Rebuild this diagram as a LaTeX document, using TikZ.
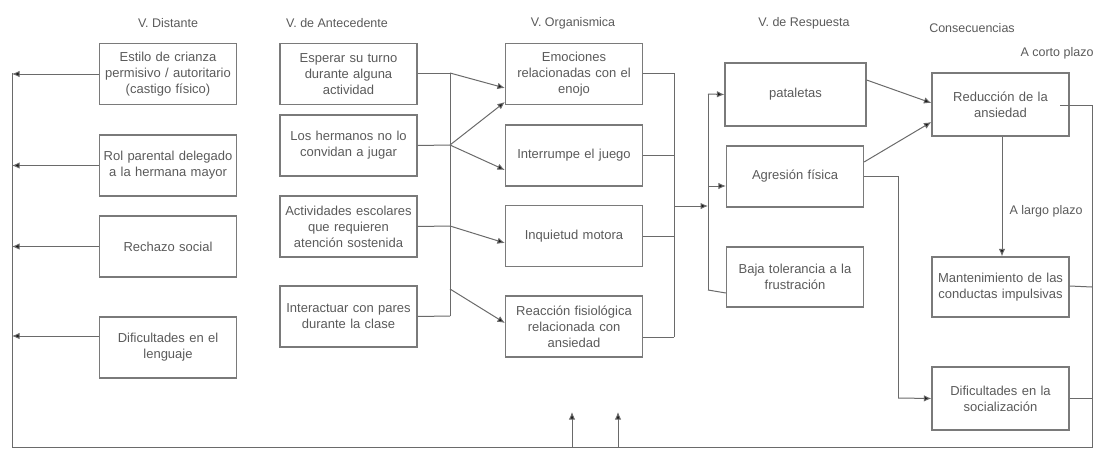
\documentclass[tikz,border=0pt]{standalone}
\usepackage{fontspec}
\setmainfont{Liberation Sans}
\usetikzlibrary{arrows.meta}
\definecolor{linec}{HTML}{6A6A6A}
\definecolor{boxc}{HTML}{7A7A7A}
\definecolor{txt}{HTML}{5A5A5A}
\definecolor{tipc}{HTML}{1A1A1A}
\tikzset{
  box/.style={draw=boxc, line width=1.2pt, minimum width=136pt, minimum height=61pt, align=center, text width=136pt, inner sep=0.5pt, font=\fontsize{13}{16}\selectfont, text=txt},
  ttl/.style={font=\fontsize{12.5}{14}\selectfont, text=txt, inner sep=1pt},
  ln/.style={draw=linec, line width=1pt},
  arr/.style={ln, -{Latex[length=7.5pt,width=6.5pt,fill=tipc]}},
}
\begin{document}
\begin{tikzpicture}[x=1pt,y=-1pt]
\useasboundingbox (0,0) rectangle (1101,450);
% titles
\node[ttl] (t1) at (168,23) {V. Distante};
\node[ttl] (t2) at (337,23) {V. de Antecedente};
\node[ttl] (t3) at (573,23) {V. Organismica};
\node[ttl] (t4) at (804,23) {V. de Respuesta};
\node[ttl] (t5) at (972,28) {Consecuencias};
\node[ttl] (t6) at (1057,53) {A corto plazo};
\node[ttl] (t7) at (1046,211) {A largo plazo};
% column 1
\node[box] (d1) at (168,74) {Estilo de crianza\\permisivo / autoritario\\(castigo físico)};
\node[box] (d2) at (168,165.5) {Rol parental delegado\\a la hermana mayor};
\node[box] (d3) at (168,246.5) {Rechazo social};
\node[box] (d4) at (168,347.5) {Dificultades en el\\lenguaje};
% column 2
\node[box, minimum width=135pt] (a1) at (348.5,74) {Esperar su turno\\durante alguna\\actividad};
\node[box, minimum width=135pt] (a2) at (348.5,145.5) {Los hermanos no lo\\convidan a jugar};
\node[box, minimum width=135pt] (a3) at (348.5,226.5) {Actividades escolares\\que requieren\\atención sostenida};
\node[box, minimum width=135pt] (a4) at (348.5,316.5) {Interactuar con pares\\durante la clase};
% column 3
\node[box] (e1) at (574,74) {Emociones\\relacionadas con el\\enojo};
\node[box] (e2) at (574,155.5) {Interrumpe el juego};
\node[box] (e3) at (574,236) {Inquietud motora};
\node[box] (e4) at (574,326.5) {Reacción fisiológica\\relacionada con\\ansiedad};
% column 4
\node[box, minimum width=141pt, minimum height=63pt] (r1) at (795.5,94.5) {pataletas};
\node[box] (r2) at (795,176.5) {Agresión física};
\node[box, minimum height=60pt] (r3) at (795,277) {Baja tolerancia a la\\frustración};
% column 5
\node[box, minimum width=135pt, minimum height=63pt] (c1) at (1000.5,104.5) {Reducción de la\\ansiedad};
\node[box, minimum width=135pt, minimum height=60pt] (c2) at (1000.5,287) {Mantenimiento de las\\conductas impulsivas};
\node[box, minimum width=135pt, minimum height=63pt] (c3) at (1000.5,398.5) {Dificultades en la\\socialización};
% helper coordinates
\coordinate (L) at (12,73);
\coordinate (BL) at (12,447);
\coordinate (BR) at (1092,447);
\coordinate (RT) at (1092,105);
\coordinate (A) at (450,0);
\coordinate (A1) at (450,73);
\coordinate (A2) at (450,145);
\coordinate (A4) at (450,316);
\coordinate (A5) at (450,289);
\coordinate (A3) at (450,226);
\coordinate (E) at (674,0);
\coordinate (E1) at (674,73);
\coordinate (EM) at (674,206);
\coordinate (E4) at (674,337);
\coordinate (R) at (708,0);
\coordinate (RM) at (708,206);
\coordinate (R1) at (708,94);
\coordinate (R3) at (708,290);
\coordinate (G) at (898,176);
\coordinate (G2) at (898,398);
\coordinate (U1a) at (572,447);
\coordinate (U1b) at (572,412);
\coordinate (U2a) at (618,447);
\coordinate (U2b) at (618,412);
% column 1 feedback
\draw[arr] (d1.west) -- (d1.west -| L);
\draw[arr] (d2.west) -- (d2.west -| L);
\draw[arr] (d3.west) -- (d3.west -| L);
\draw[arr] ([yshift=11.5pt]d4.west) -- ([yshift=11.5pt]d4.west -| L);
\draw[ln] (L) -- (BL) -- (BR) -- (RT);
% column 2 bus
\draw[ln] ([yshift=1pt]a1.east) -- (A1);
\draw[ln] (a2.east) -- (A2);
\draw[ln] (a3.east) -- (A3);
\draw[ln] (a4.east) -- (A4);
\draw[ln] (A1) -- (A4);
\draw[arr] (A1) -- ([yshift=-14pt]e1.west);
\draw[arr] (A2) -- ([yshift=-28pt]e1.west);
\draw[arr] (A2) -- ([yshift=-14.5pt]e2.west);
\draw[arr] (A3) -- ([yshift=-7pt]e3.west);
\draw[arr] (A5) -- ([yshift=3.5pt]e4.west);
% column 3 bus
\draw[ln] ([yshift=1pt]e1.east) -- (E1);
\draw[ln] (e2.east) -- (e2.east -| E);
\draw[ln] (e3.east) -- (e3.east -| E);
\draw[ln] ([yshift=-10.5pt]e4.east) -- (E4);
\draw[ln] (E1) -- (E4);
\draw[arr] (EM) -- (RM);
\draw[ln] (R1) -- (R3);
\draw[arr] (R1) -- (r1.west);
\draw[arr] ([yshift=-9.5pt]r2.west -| R) -- ([yshift=-9.5pt]r2.west);
\draw[ln] (R3) -- ([yshift=-16pt]r3.west);
% consequences
\draw[arr] ([yshift=14.5pt]r1.east) -- ([yshift=1.5pt]c1.west);
\draw[arr] ([yshift=14.5pt]r2.east) -- ([yshift=-17.5pt]c1.west);
\draw[arr] (c1.south -| 1002,0) -- (c2.north -| 1002,0);
\draw[ln] ([yshift=0.5pt]r2.east) -- (G) -- (G2);
\draw[arr] (G2) -- (c3.west);
\draw[ln] ([xshift=-9.5pt,yshift=-0.5pt]c1.east) -- (RT);
\draw[ln] ([yshift=1pt]c2.east) -- (c2.east -| RT);
\draw[ln] (c3.east) -- (c3.east -| RT);
% bottom arrows
\draw[arr] (U1a) -- (U1b);
\draw[arr] (U2a) -- (U2b);
\end{tikzpicture}
\end{document}
